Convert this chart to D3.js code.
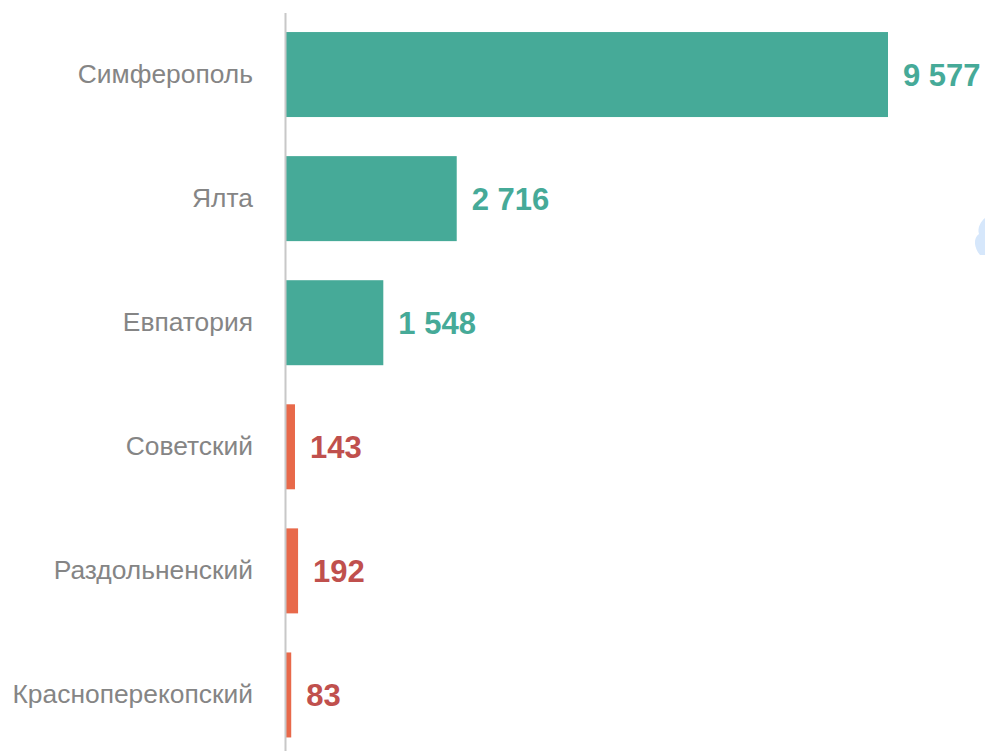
<!DOCTYPE html>
<html>
<head>
<meta charset="utf-8">
<script src="https://cdn.jsdelivr.net/npm/d3@7"></script>
<style>
  body { margin: 0; background: #fff; }
  svg { display: block; font-family: "Liberation Sans", Arial, sans-serif; }
</style>
</head>
<body>
<div class="chart"></div>
<script>
// Data
var places = ["Симферополь", "Ялта", "Евпатория", "Советский", "Раздольненский", "Красноперекопский"];
var counts = [9577, 2716, 1548, 143, 192, 83];
var kinds = ["city", "city", "city", "district", "district", "district"];

// Dimensions
var svgWidth = 985;
var svgHeight = 751;
var axisX = 285;

var barColor = { city: "#46aa98", district: "#e8694a" };
var labelColor = { city: "#46aa98", district: "#c0504d" };

var svg = d3.select(".chart")
  .append("svg")
  .attr("width", svgWidth)
  .attr("height", svgHeight);

var rows = places.map(function(p, i) {
  return { place: p, count: counts[i], kind: kinds[i] };
});

// Scales
var x = d3.scaleLinear().domain([0, 9577]).range([axisX + 1, 888]);
var y = d3.scaleBand()
  .domain(places)
  .range([12.5, 757])
  .paddingInner(0.315)
  .paddingOuter(0.1575);

var fmt = d3.formatLocale({ decimal: ",", thousands: " ", grouping: [3], currency: ["", ""] }).format(",d");

// Bars
svg.selectAll("rect.bar")
  .data(rows)
  .enter().append("rect")
  .attr("class", "bar")
  .attr("x", x(0))
  .attr("y", function(d) { return y(d.place); })
  .attr("width", function(d) { return x(d.count) - x(0); })
  .attr("height", y.bandwidth())
  .attr("fill", function(d) { return barColor[d.kind]; });

// Value labels
svg.selectAll("text.value")
  .data(rows)
  .enter().append("text")
  .attr("class", "value")
  .attr("x", function(d) { return x(d.count) + 15; })
  .attr("y", function(d) { return y(d.place) + y.bandwidth() / 2; })
  .attr("dy", "0.36em")
  .attr("font-size", 31)
  .attr("font-weight", "bold")
  .attr("fill", function(d) { return labelColor[d.kind]; })
  .text(function(d) { return fmt(d.count); });

// Axis with category labels
var leftAxis = d3.axisLeft(y).tickSize(0).tickPadding(32);
var axisG = svg.append("g")
  .attr("transform", "translate(" + axisX + ",0)")
  .call(leftAxis);
axisG.select(".domain").attr("stroke", "#c8c8c8").attr("stroke-width", 2);
axisG.selectAll("text")
  .attr("font-size", 26.4)
  .attr("font-family", "Liberation Sans, Arial, sans-serif")
  .attr("fill", "#858585");

// faint blue shape clipped at the right edge
svg.append("path")
  .attr("d", "M985,218 C981,221 977,228 979,234 C973,238 974,248 980,255 L985,255 Z")
  .attr("fill", "#d6e7fb");
</script>
</body>
</html>
